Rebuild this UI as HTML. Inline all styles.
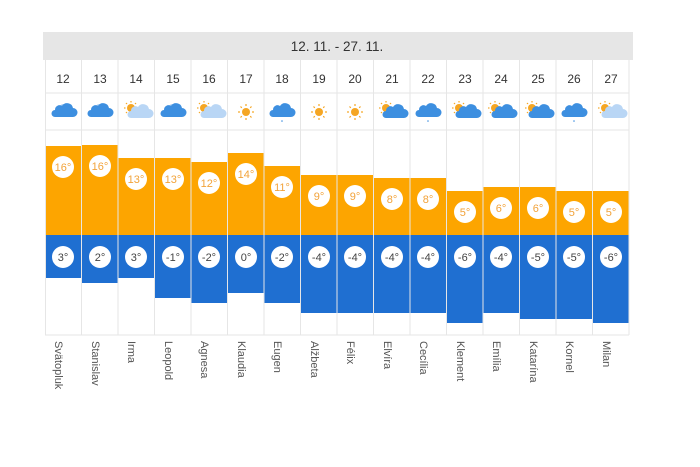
<!DOCTYPE html>
<html><head><meta charset="utf-8"><style>
html,body{margin:0;padding:0;background:#fff;width:700px;height:467px;overflow:hidden}
svg{display:block;font-family:"Liberation Sans",sans-serif}
</style></head><body>
<svg width="700" height="467" viewBox="0 0 700 467">
<defs>
<g id="cloud"><path d="M-9,5 h18 a4.5,4.5 0 0 0 0,-9 a6,6 0 0 0 -11,-2 a4.5,4.5 0 0 0 -7,4 a3.5,3.5 0 0 0 0,7z" fill="#3d8fe0"/></g>
<g id="cloudlt"><path d="M-6,6 h18 a4.5,4.5 0 0 0 0,-9 a6,6 0 0 0 -11,-2 a4.5,4.5 0 0 0 -7,4 a3.5,3.5 0 0 0 0,7z" fill="#b9d6f5"/></g>
<g id="cloudbl"><path d="M-6,6 h18 a4.5,4.5 0 0 0 0,-9 a6,6 0 0 0 -11,-2 a4.5,4.5 0 0 0 -7,4 a3.5,3.5 0 0 0 0,7z" fill="#3d8fe0"/></g>
<g id="sunsm"><circle cx="-6" cy="-4" r="4" fill="#f5a623"/><g stroke="#f5a623" stroke-width="1.2"><line x1="-6" y1="-11" x2="-6" y2="-9.5"/><line x1="-13" y1="-4" x2="-11.5" y2="-4"/><line x1="-11" y1="-9" x2="-10" y2="-8"/><line x1="-1" y1="-9" x2="-2" y2="-8"/><line x1="-11" y1="1" x2="-10" y2="0"/></g></g>
<g id="sun"><circle r="4" fill="#f5a623"/><g stroke="#f5a623" stroke-width="1.2"><line x1="0" y1="-8" x2="0" y2="-6"/><line x1="0" y1="8" x2="0" y2="6"/><line x1="-8" y1="0" x2="-6" y2="0"/><line x1="8" y1="0" x2="6" y2="0"/><line x1="-5.5" y1="-5.5" x2="-4.2" y2="-4.2"/><line x1="5.5" y1="5.5" x2="4.2" y2="4.2"/><line x1="-5.5" y1="5.5" x2="-4.2" y2="4.2"/><line x1="5.5" y1="-5.5" x2="4.2" y2="-4.2"/></g></g>
<g id="c_cloud"><path d="M-4,-4 a4,4 0 0 1 7,-1" stroke="#9cc5ef" stroke-width="2.5" fill="none"/><use href="#cloud"/></g>
<g id="c_drop"><use href="#cloud"/><circle cx="0" cy="9" r="0.8" fill="#3d8fe0"/></g>
<g id="c_sunlt"><use href="#sunsm"/><use href="#cloudlt"/></g>
<g id="c_sunbl"><use href="#sunsm"/><use href="#cloudbl"/></g>
</defs>

<!-- header -->
<rect x="43" y="32" width="590" height="28" fill="#e6e6e6"/>
<text x="337" y="51" font-size="13.5" fill="#333" text-anchor="middle">12. 11. - 27. 11.</text>

<!-- grid lines -->
<g stroke="#e6e6e6" stroke-width="1">
<line x1="45" y1="93" x2="629" y2="93"/>
<line x1="45" y1="130" x2="629" y2="130"/>
<line x1="45" y1="335" x2="629" y2="335"/>
<line x1="45.5" y1="60" x2="45.5" y2="335"/>
<line x1="81.5" y1="60" x2="81.5" y2="335"/><line x1="118" y1="60" x2="118" y2="335"/>
<line x1="154.5" y1="60" x2="154.5" y2="335"/><line x1="191" y1="60" x2="191" y2="335"/>
<line x1="227.5" y1="60" x2="227.5" y2="335"/><line x1="264" y1="60" x2="264" y2="335"/>
<line x1="300.5" y1="60" x2="300.5" y2="335"/><line x1="337" y1="60" x2="337" y2="335"/>
<line x1="373.5" y1="60" x2="373.5" y2="335"/><line x1="410" y1="60" x2="410" y2="335"/>
<line x1="446.5" y1="60" x2="446.5" y2="335"/><line x1="483" y1="60" x2="483" y2="335"/>
<line x1="519.5" y1="60" x2="519.5" y2="335"/><line x1="556" y1="60" x2="556" y2="335"/>
<line x1="592.5" y1="60" x2="592.5" y2="335"/><line x1="629" y1="60" x2="629" y2="335"/>
</g>

<!-- day numbers -->
<g font-size="12" fill="#333" text-anchor="middle">
<text x="63" y="83">12</text><text x="100" y="83">13</text><text x="136" y="83">14</text><text x="173" y="83">15</text>
<text x="209" y="83">16</text><text x="246" y="83">17</text><text x="282" y="83">18</text><text x="319" y="83">19</text>
<text x="355" y="83">20</text><text x="392" y="83">21</text><text x="428" y="83">22</text><text x="465" y="83">23</text>
<text x="501" y="83">24</text><text x="538" y="83">25</text><text x="574" y="83">26</text><text x="611" y="83">27</text>
</g>

<!-- icons -->
<use href="#c_cloud" x="64" y="112"/><use href="#c_cloud" x="100" y="112"/>
<use href="#c_sunlt" x="137" y="112"/><use href="#c_cloud" x="173" y="112"/>
<use href="#c_sunlt" x="210" y="112"/><use href="#sun" x="246" y="112"/>
<use href="#c_drop" x="282" y="112"/><use href="#sun" x="319" y="112"/>
<use href="#sun" x="355" y="112"/><use href="#c_sunbl" x="392" y="112"/>
<use href="#c_drop" x="428" y="112"/><use href="#c_sunbl" x="465" y="112"/>
<use href="#c_sunbl" x="501" y="112"/><use href="#c_sunbl" x="538" y="112"/>
<use href="#c_drop" x="574" y="112"/><use href="#c_sunlt" x="611" y="112"/>

<!-- orange bars -->
<g fill="#fda500">
<rect x="46" y="146" width="35" height="89"/><rect x="82" y="145" width="35.5" height="90"/>
<rect x="118.5" y="158" width="35.5" height="77"/><rect x="155" y="158" width="35.5" height="77"/>
<rect x="191.5" y="162" width="35.5" height="73"/><rect x="228" y="153" width="35.5" height="82"/>
<rect x="264.5" y="166" width="35.5" height="69"/><rect x="301" y="175" width="35.5" height="60"/>
<rect x="337.5" y="175" width="35.5" height="60"/><rect x="374" y="178" width="35.5" height="57"/>
<rect x="410.5" y="178" width="35.5" height="57"/><rect x="447" y="191" width="35.5" height="44"/>
<rect x="483.5" y="187" width="35.5" height="48"/><rect x="520" y="187" width="35.5" height="48"/>
<rect x="556.5" y="191" width="35.5" height="44"/><rect x="593" y="191" width="35.5" height="44"/>
</g>
<!-- blue bars -->
<g fill="#1f6fd1">
<rect x="46" y="235" width="35" height="43"/><rect x="82" y="235" width="35.5" height="48"/>
<rect x="118.5" y="235" width="35.5" height="43"/><rect x="155" y="235" width="35.5" height="63"/>
<rect x="191.5" y="235" width="35.5" height="68"/><rect x="228" y="235" width="35.5" height="58"/>
<rect x="264.5" y="235" width="35.5" height="68"/><rect x="301" y="235" width="35.5" height="78"/>
<rect x="337.5" y="235" width="35.5" height="78"/><rect x="374" y="235" width="35.5" height="78"/>
<rect x="410.5" y="235" width="35.5" height="78"/><rect x="447" y="235" width="35.5" height="88"/>
<rect x="483.5" y="235" width="35.5" height="78"/><rect x="520" y="235" width="35.5" height="84"/>
<rect x="556.5" y="235" width="35.5" height="84"/><rect x="593" y="235" width="35.5" height="88"/>
</g>

<!-- high circles -->
<g fill="#fff">
<circle cx="63" cy="167" r="11"/><circle cx="100" cy="166" r="11"/><circle cx="136" cy="179" r="11"/><circle cx="173" cy="179" r="11"/>
<circle cx="209" cy="183" r="11"/><circle cx="246" cy="174" r="11"/><circle cx="282" cy="187" r="11"/><circle cx="319" cy="196" r="11"/>
<circle cx="355" cy="196" r="11"/><circle cx="392" cy="199" r="11"/><circle cx="428" cy="199" r="11"/><circle cx="465" cy="212" r="11"/>
<circle cx="501" cy="208" r="11"/><circle cx="538" cy="208" r="11"/><circle cx="574" cy="212" r="11"/><circle cx="611" cy="212" r="11"/>
</g>
<g font-size="11" fill="#f2a33a" text-anchor="middle">
<text x="63" y="171">16°</text><text x="100" y="170">16°</text><text x="136" y="183">13°</text><text x="173" y="183">13°</text>
<text x="209" y="187">12°</text><text x="246" y="178">14°</text><text x="282" y="191">11°</text><text x="319" y="200">9°</text>
<text x="355" y="200">9°</text><text x="392" y="203">8°</text><text x="428" y="203">8°</text><text x="465" y="216">5°</text>
<text x="501" y="212">6°</text><text x="538" y="212">6°</text><text x="574" y="216">5°</text><text x="611" y="216">5°</text>
</g>
<!-- low circles -->
<g fill="#fff">
<circle cx="63" cy="257" r="11"/><circle cx="100" cy="257" r="11"/><circle cx="136" cy="257" r="11"/><circle cx="173" cy="257" r="11"/>
<circle cx="209" cy="257" r="11"/><circle cx="246" cy="257" r="11"/><circle cx="282" cy="257" r="11"/><circle cx="319" cy="257" r="11"/>
<circle cx="355" cy="257" r="11"/><circle cx="392" cy="257" r="11"/><circle cx="428" cy="257" r="11"/><circle cx="465" cy="257" r="11"/>
<circle cx="501" cy="257" r="11"/><circle cx="538" cy="257" r="11"/><circle cx="574" cy="257" r="11"/><circle cx="611" cy="257" r="11"/>
</g>
<g font-size="11" fill="#444" text-anchor="middle">
<text x="63" y="261">3°</text><text x="100" y="261">2°</text><text x="136" y="261">3°</text><text x="173" y="261">-1°</text>
<text x="209" y="261">-2°</text><text x="246" y="261">0°</text><text x="282" y="261">-2°</text><text x="319" y="261">-4°</text>
<text x="355" y="261">-4°</text><text x="392" y="261">-4°</text><text x="428" y="261">-4°</text><text x="465" y="261">-6°</text>
<text x="501" y="261">-4°</text><text x="538" y="261">-5°</text><text x="574" y="261">-5°</text><text x="611" y="261">-6°</text>
</g>

<!-- names -->
<g font-size="11" fill="#555">
<text transform="translate(55,341) rotate(90)">Svätopluk</text>
<text transform="translate(92,341) rotate(90)">Stanislav</text>
<text transform="translate(128,341) rotate(90)">Irma</text>
<text transform="translate(165,341) rotate(90)">Leopold</text>
<text transform="translate(201,341) rotate(90)">Agnesa</text>
<text transform="translate(238,341) rotate(90)">Klaudia</text>
<text transform="translate(274,341) rotate(90)">Eugen</text>
<text transform="translate(311,341) rotate(90)">Alžbeta</text>
<text transform="translate(347,341) rotate(90)">Félix</text>
<text transform="translate(384,341) rotate(90)">Elvíra</text>
<text transform="translate(420,341) rotate(90)">Cecília</text>
<text transform="translate(457,341) rotate(90)">Klement</text>
<text transform="translate(493,341) rotate(90)">Emília</text>
<text transform="translate(530,341) rotate(90)">Katarína</text>
<text transform="translate(566,341) rotate(90)">Kornel</text>
<text transform="translate(603,341) rotate(90)">Milan</text>
</g>
</svg>
</body></html>
